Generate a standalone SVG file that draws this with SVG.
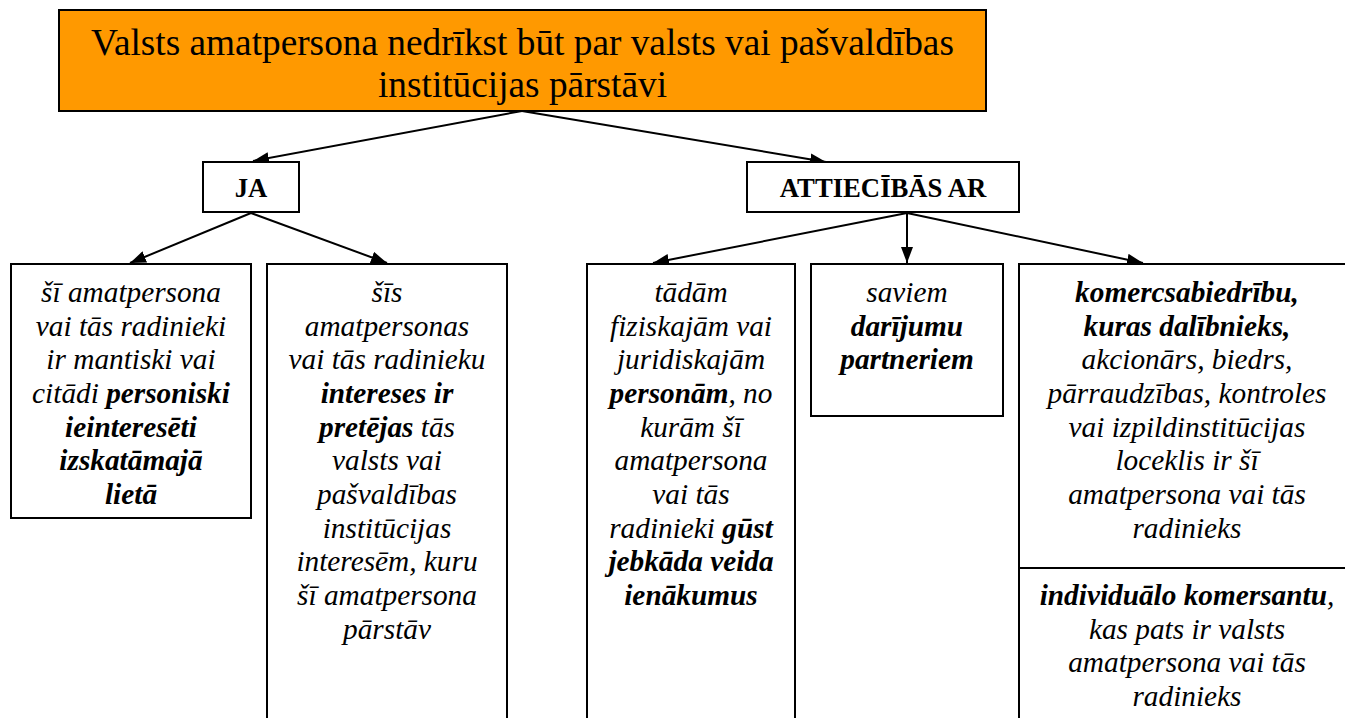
<svg xmlns="http://www.w3.org/2000/svg" width="1345" height="718" viewBox="0 0 1345 718">
<style>
.box{fill:#fff;stroke:#000;stroke-width:2}
.con{stroke:#000;stroke-width:2;fill:none;marker-end:url(#ah)}
</style>
<defs>
<marker id="ah" markerUnits="userSpaceOnUse" markerWidth="17" markerHeight="12" refX="16" refY="6" orient="auto">
<path d="M0,0 L16,6 L0,12 z" fill="#000"/>
</marker>
</defs>
<rect width="1345" height="718" fill="#fff"/>
<g id="connectors">
<line class="con" x1="522" y1="111" x2="253" y2="161"/>
<line class="con" x1="522" y1="111" x2="826" y2="162"/>
<line class="con" x1="251" y1="213" x2="130" y2="263"/>
<line class="con" x1="251" y1="213" x2="387" y2="263"/>
<line class="con" x1="907" y1="213" x2="653" y2="263"/>
<line class="con" x1="907" y1="213" x2="907" y2="263"/>
<line class="con" x1="907" y1="213" x2="1143" y2="263"/>
</g>
<g id="title" font-family="'Liberation Serif', serif" font-size="37.3" text-anchor="middle" fill="#000">
<rect x="59" y="10" width="927" height="101" fill="#FF9900" stroke="#000" stroke-width="2"/>
<text x="522.5" y="55">Valsts amatpersona nedrīkst būt par valsts vai pašvaldības</text>
<text x="522.5" y="97">institūcijas pārstāvi</text>
</g>
<g id="ja" font-family="'Liberation Serif', serif" font-size="26.7" font-weight="bold" text-anchor="middle">
<rect class="box" x="203" y="162" width="96" height="50"/>
<text x="251" y="197">JA</text>
</g>
<g id="attiecibas" font-family="'Liberation Serif', serif" font-size="26.7" font-weight="bold" text-anchor="middle">
<rect class="box" x="747" y="162" width="272" height="50"/>
<text x="883" y="197">ATTIECĪBĀS AR</text>
</g>
<g id="box1" font-family="'Liberation Serif', serif" font-size="29.3" font-style="italic" text-anchor="middle">
<rect class="box" x="11" y="264" width="240" height="254"/>
<text x="131" y="302">šī amatpersona</text>
<text x="131" y="336">vai tās radinieki</text>
<text x="131" y="369">ir mantiski vai</text>
<text x="131" y="403">citādi <tspan font-weight="bold">personiski</tspan></text>
<text x="131" y="437" font-weight="bold">ieinteresēti</text>
<text x="131" y="470" font-weight="bold">izskatāmajā</text>
<text x="131" y="504" font-weight="bold">lietā</text>
</g>
<g id="box2" font-family="'Liberation Serif', serif" font-size="29.3" font-style="italic" text-anchor="middle">
<rect class="box" x="267" y="264" width="240" height="470"/>
<text x="387" y="302">šīs</text>
<text x="387" y="336">amatpersonas</text>
<text x="387" y="369">vai tās radinieku</text>
<text x="387" y="403" font-weight="bold">intereses ir</text>
<text x="387" y="437"><tspan font-weight="bold">pretējas</tspan> tās</text>
<text x="387" y="470">valsts vai</text>
<text x="387" y="504">pašvaldības</text>
<text x="387" y="538">institūcijas</text>
<text x="387" y="571">interesēm, kuru</text>
<text x="387" y="605">šī amatpersona</text>
<text x="387" y="639">pārstāv</text>
</g>
<g id="box3" font-family="'Liberation Serif', serif" font-size="29.3" font-style="italic" text-anchor="middle">
<rect class="box" x="587" y="264" width="208" height="470"/>
<text x="691" y="302">tādām</text>
<text x="691" y="336">fiziskajām vai</text>
<text x="691" y="369">juridiskajām</text>
<text x="691" y="403"><tspan font-weight="bold">personām</tspan>, no</text>
<text x="691" y="437">kurām šī</text>
<text x="691" y="470">amatpersona</text>
<text x="691" y="504">vai tās</text>
<text x="691" y="538">radinieki <tspan font-weight="bold">gūst</tspan></text>
<text x="691" y="571" font-weight="bold">jebkāda veida</text>
<text x="691" y="605" font-weight="bold">ienākumus</text>
</g>
<g id="box4" font-family="'Liberation Serif', serif" font-size="29.3" font-style="italic" text-anchor="middle">
<rect class="box" x="811" y="264" width="192" height="152"/>
<text x="907" y="302">saviem</text>
<text x="907" y="336" font-weight="bold">darījumu</text>
<text x="907" y="369" font-weight="bold">partneriem</text>
</g>
<g id="box5" font-family="'Liberation Serif', serif" font-size="29.3" font-style="italic" text-anchor="middle">
<rect class="box" x="1019" y="264" width="340" height="304"/>
<text x="1187" y="302" font-weight="bold">komercsabiedrību,</text>
<text x="1187" y="336" font-weight="bold">kuras dalībnieks,</text>
<text x="1187" y="369">akcionārs, biedrs,</text>
<text x="1187" y="403">pārraudzības, kontroles</text>
<text x="1187" y="437">vai izpildinstitūcijas</text>
<text x="1187" y="470">loceklis ir šī</text>
<text x="1187" y="504">amatpersona vai tās</text>
<text x="1187" y="538">radinieks</text>
</g>
<g id="box6" font-family="'Liberation Serif', serif" font-size="29.3" font-style="italic" text-anchor="middle">
<rect class="box" x="1019" y="568" width="340" height="170"/>
<text x="1187" y="605"><tspan font-weight="bold">individuālo komersantu</tspan>,</text>
<text x="1187" y="639">kas pats ir valsts</text>
<text x="1187" y="672">amatpersona vai tās</text>
<text x="1187" y="706">radinieks</text>
</g>
</svg>
